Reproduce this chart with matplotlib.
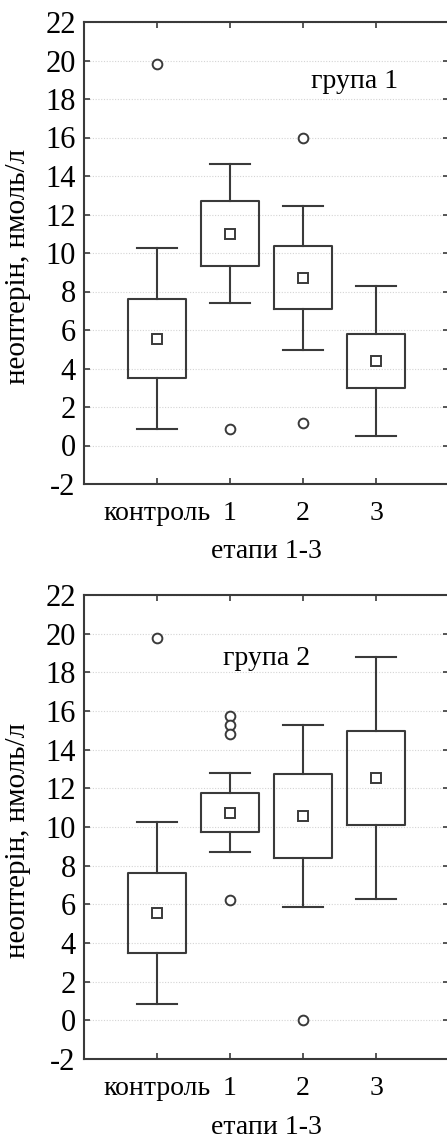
import matplotlib
matplotlib.use("Agg")
import matplotlib.pyplot as plt

plt.rcParams['font.family'] = ['Liberation Serif', 'DejaVu Serif']
plt.rcParams['axes.unicode_minus'] = False

# categories
labels = ['контроль', '1', '2', '3']

# group 1
g1_whislo = [0.85, 7.4, 4.95, 0.5]
g1_q1 = [3.5, 9.35, 7.1, 3.0]
g1_mid = [5.55, 11.0, 8.7, 4.4]
g1_q3 = [7.6, 12.7, 10.35, 5.8]
g1_whishi = [10.25, 14.6, 12.45, 8.3]
g1_out = [[19.8], [0.85], [16.0, 1.15], []]

# group 2
g2_whislo = [0.85, 8.7, 5.85, 6.3]
g2_q1 = [3.5, 9.75, 8.4, 10.1]
g2_mid = [5.55, 10.75, 10.55, 12.55]
g2_q3 = [7.6, 11.75, 12.75, 14.95]
g2_whishi = [10.25, 12.8, 15.3, 18.8]
g2_out = [[19.8], [15.75, 15.3, 14.8, 6.2], [0.0], []]

ink = '#3a3a3a'


def panel(ax, lo, q1, mid, q3, hi, out, title, tx, ty):
    stats = []
    for i in range(len(labels)):
        stats.append(dict(med=mid[i], q1=q1[i], q3=q3[i], whislo=lo[i],
                          whishi=hi[i], fliers=out[i], mean=mid[i]))
    ax.bxp(stats, positions=[1, 2, 3, 4], widths=0.8, capwidths=0.56,
           showmeans=True,
           boxprops=dict(color=ink, linewidth=1.5),
           whiskerprops=dict(color=ink, linewidth=1.5),
           capprops=dict(color=ink, linewidth=1.5),
           medianprops=dict(linewidth=0),
           meanprops=dict(marker='s', markersize=7, markerfacecolor='white',
                          markeredgecolor=ink, markeredgewidth=1.4),
           flierprops=dict(marker='o', markersize=7, markerfacecolor='white',
                           markeredgecolor=ink, markeredgewidth=1.4))
    ax.set_xlim(0, 5)
    ax.set_ylim(-2, 22)
    ax.set_yticks(range(-2, 23, 2))
    ax.set_xticks([1, 2, 3, 4])
    ax.set_xticklabels(labels)
    ax.grid(axis='y', linestyle=(0, (1, 1.5)), color='#d4d4d4', linewidth=0.8)
    ax.set_axisbelow(True)
    ax.tick_params(direction='in', length=4, width=1.2, color=ink,
                   top=True, right=True, labelsize=22, pad=6)
    ax.tick_params(axis='x', labelsize=20, pad=12)
    for s in ax.spines.values():
        s.set_color(ink)
        s.set_linewidth(1.5)
    ax.set_ylabel('неоптерін, нмоль/л', fontsize=21)
    ax.yaxis.set_label_coords(-0.145, 0.47)
    ax.set_xlabel('етапи 1-3', fontsize=20)
    ax.xaxis.set_label_coords(0.5, -0.12)
    ax.text(tx, ty, title, fontsize=20, ha='center', va='center')


fig = plt.figure(figsize=(4.47, 11.40), dpi=100)
ax1 = fig.add_axes([84 / 447, 1 - 484 / 1140, 365 / 447, 462 / 1140])
ax2 = fig.add_axes([84 / 447, 1 - 1059 / 1140, 365 / 447, 464 / 1140])

panel(ax1, g1_whislo, g1_q1, g1_mid, g1_q3, g1_whishi, g1_out, 'група 1', 3.71, 18.9)
panel(ax2, g2_whislo, g2_q1, g2_mid, g2_q3, g2_whishi, g2_out, 'група 2', 2.5, 18.7)

fig.savefig('out.png', dpi=100)
